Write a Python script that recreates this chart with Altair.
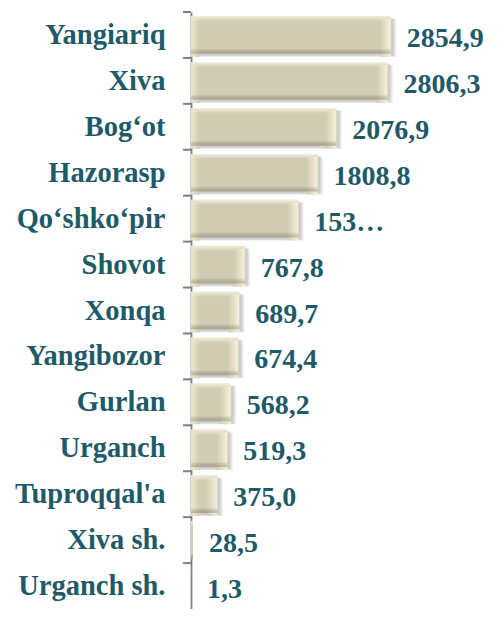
import altair as alt
import pandas as pd

districts = ["Yangiariq", "Xiva", "Bog\u2018ot\u00a0", "Hazorasp", "Qo\u2018shko\u2018pir", "Shovot",
             "Xonqa", "Yangibozor", "Gurlan", "Urganch", "Tuproqqal'a", "Xiva sh.", "Urganch sh."]
values = [2854.9, 2806.3, 2076.9, 1808.8, 1533.0, 767.8, 689.7, 674.4, 568.2, 519.3, 375.0, 28.5, 1.3]
value_labels = ["2854,9", "2806,3", "2076,9", "1808,8", "153\u2026", "767,8", "689,7", "674,4",
                "568,2", "519,3", "375,0", "28,5", "1,3"]

df = pd.DataFrame({"district": districts, "value": values, "label": value_labels})

FONT = "Times New Roman, Liberation Serif, serif"
TEAL = "#1F5A69"
FACE = "#D0CBB2"
LIGHT = "#F6F2D9"
AXIS_GRAY = "#808080"

PLOT_H = 597
STEP = PLOT_H / len(districts)

y_enc = alt.Y("district:N", sort=None, title=None,
              scale=alt.Scale(paddingInner=0.18, paddingOuter=0.09),
              axis=alt.Axis(labelFont=FONT, labelFontSize=28.5, labelFontWeight="bold",
                            labelColor=TEAL, labelPadding=26, labelLimit=0,
                            domainColor=AXIS_GRAY, domainWidth=1.8,
                            ticks=False, grid=False))
x_scale = alt.Scale(domain=[0, 4286], nice=False, zero=True)
x_enc = alt.X("value:Q", scale=x_scale, axis=None)
x0_enc = alt.X("zero:Q", scale=x_scale, axis=None)

base = alt.Chart(df)
big = base.transform_filter("datum.value > 200").transform_calculate(zero="0")

# tick marks at the band boundaries, left of the axis line
ticks = base.mark_bar(color=AXIS_GRAY, yOffset=-STEP / 2 - 1, y2Offset=-STEP / 2 + 1).encode(
    y=alt.Y("district:N", sort=None, title=None, bandPosition=0.5), y2=alt.Y2("district:N"),
    x=alt.value(-8), x2=alt.value(0))

shadow1 = big.mark_bar(color="#000000", opacity=0.10, xOffset=1, x2Offset=5, yOffset=3, y2Offset=5).encode(
    y=y_enc, x=x0_enc, x2="value:Q")
shadow2 = big.mark_bar(color="#000000", opacity=0.10, xOffset=1, x2Offset=3, yOffset=2, y2Offset=2).encode(
    y=y_enc, x=x0_enc, x2="value:Q")

face = base.mark_bar(color=FACE).encode(y=y_enc, x=x_enc)

vgrad = alt.Gradient(gradient="linear", x1=0, x2=0, y1=0, y2=1, stops=[
    alt.GradientStop(color="rgba(255,252,235,0.75)", offset=0),
    alt.GradientStop(color="rgba(255,252,235,0)", offset=0.14),
    alt.GradientStop(color="rgba(0,0,0,0)", offset=0.86),
    alt.GradientStop(color="rgba(110,100,80,0.35)", offset=1),
])
vbevel = base.mark_bar(color=vgrad).encode(y=y_enc, x=x_enc)

rgrad = alt.Gradient(gradient="linear", x1=0, x2=1, y1=0, y2=0, stops=[
    alt.GradientStop(color=FACE, offset=0),
    alt.GradientStop(color=LIGHT, offset=1),
])
lgrad = alt.Gradient(gradient="linear", x1=0, x2=1, y1=0, y2=0, stops=[
    alt.GradientStop(color="#ECE8CD", offset=0),
    alt.GradientStop(color=FACE, offset=1),
])
rcap = big.mark_bar(color=rgrad, xOffset=-11, yOffset=3, y2Offset=-3).encode(
    y=y_enc, x=x_enc, x2="value:Q")
lcap = big.mark_bar(color=lgrad, x2Offset=9, yOffset=3, y2Offset=-3).encode(
    y=y_enc, x=x0_enc, x2="zero:Q")

text = base.mark_text(align="left", baseline="middle", dx=16, dy=4, font=FONT,
                      fontSize=28, fontWeight="bold", color=TEAL).encode(
    y=y_enc, x=x_enc, text="label:N")

chart = alt.layer(ticks, shadow1, shadow2, face, lcap, rcap, vbevel, text).properties(
    width=300, height=PLOT_H,
    autosize=alt.AutoSizeParams(type="none"),
    padding={"left": 183, "top": 4, "right": 0, "bottom": 0},
).configure_view(stroke=None)

chart.save("out.html", embed_options={"renderer": "svg", "actions": False})
